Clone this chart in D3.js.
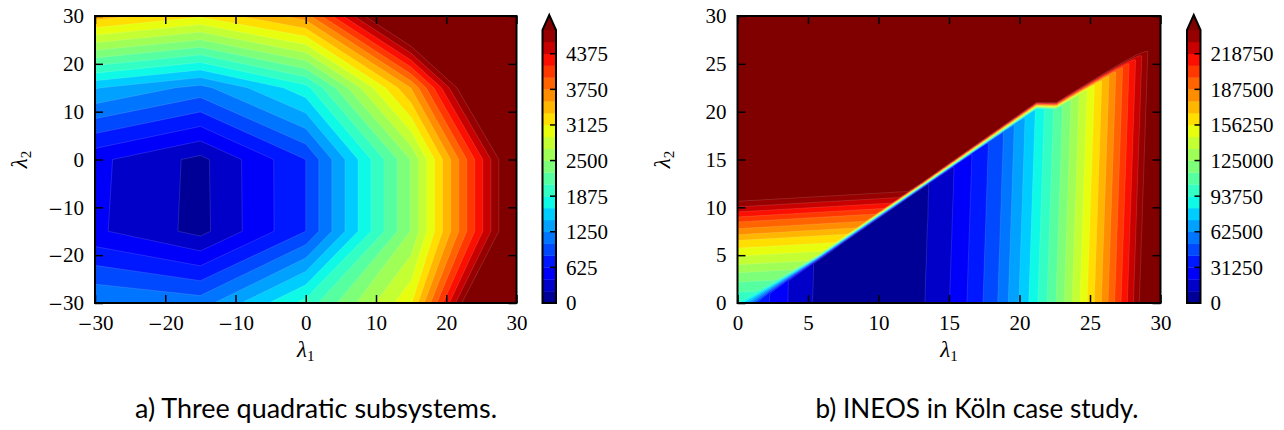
<!DOCTYPE html>
<html><head><meta charset="utf-8">
<script src="https://cdn.jsdelivr.net/npm/d3@7"></script>
<style>
body{margin:0;background:#fff;}
svg{display:block;}
</style></head><body>
<svg id="chart" width="1284" height="430"></svg>
<script>
// ================= DATA =================
// Panel a) Three quadratic subsystems : node values on a coarse grid
const quadLambda1 = [-30, -15, 0, 15, 30];
const quadLambda2 = [-30, -15, 0, 15, 30];
// one row per lambda2 (from -30 up to 30), one column per lambda1
const quadValues = [
  [1250, 1146, 1950, 3100, 6620],
  [ 456,  141,  833, 2513, 5250],
  [ 470,  150,  833, 2513, 5250],
  [1475, 1180, 1800, 3550, 6414],
  [3440, 3150, 3650, 5700, 8500]
];
const quadLevelStep = 625 / 3;
const quadBandCount = 23;
const quadColorbarTicks = [0, 625, 1250, 1875, 2500, 3125, 3750, 4375];
const quadAxisTicks = [-30, -20, -10, 0, 10, 20, 30];

// Panel b) INEOS in Köln case study
// lower region: value against lambda1 (band edges read at lambda2 = 0)
const ineosLowX = [0, 2.26, 3.56, 5.3, 9.3, 13.3, 15.04, 16.27, 17.41, 18.46, 19.2, 19.95, 20.65, 21.3, 21.95,
  22.58, 23.17, 23.73, 24.28, 24.8, 25.31, 25.81, 26.28, 26.75, 27.2, 27.65, 28.08, 28.5, 30];
const ineosLowV = [56000, 31250, 20833, 10417, 0, 10417, 20833, 31250, 41667, 52083, 62500, 72917, 83333, 93750, 104167,
  114583, 125000, 135417, 145833, 156250, 166667, 177083, 187500, 197917, 208333, 218750, 229167, 239583, 290000];
const ineosLowShear = 0.023;       // band edges lean right going up
// upper-left region: value against lambda2 (band edges read at lambda1 = 0)
const ineosLeftY = [0, 1.12, 2.17, 3.15, 3.99, 4.9, 5.74, 6.55, 7.14, 7.77, 8.47, 9.0, 9.52, 10.05, 10.64, 11.3];
const ineosLeftV = [94000, 104167, 114583, 125000, 135417, 145833, 156250, 166667, 177083, 187500, 197917, 208333,
  218750, 229167, 239583, 260000];
const ineosLeftTilt = 0.085;       // band edges rise to the right
// the steep ridge: lower edge and upper edge (lambda1 -> lambda2)
const ineosRidgeLowX = [0, 21.2, 22.6, 29.1, 30];
const ineosRidgeLowY = [-1.38, 20.3, 20.3, 26.3, 27.1];
const ineosRidgeHighX = [0, 5.7, 21.2, 22.6, 29.1, 30];
const ineosRidgeHighY = [0, 5.0, 21.05, 21.05, 27.05, 27.85];
const ineosLevelStep = 31250 / 3;
const ineosBandCount = 23;
const ineosColorbarTicks = [0, 31250, 62500, 93750, 125000, 156250, 187500, 218750];
const ineosAxisTicks = [0, 5, 10, 15, 20, 25, 30];

const captions = ["a) Three quadratic subsystems.", "b) INEOS in Köln case study."];

// ================= COLOURS (matplotlib jet, 256 entries) =================
const jetR = [[0,0],[0.35,0],[0.66,1],[0.89,1],[1,0.5]];
const jetG = [[0,0],[0.125,0],[0.375,1],[0.64,1],[0.91,0],[1,0]];
const jetB = [[0,0.5],[0.11,1],[0.34,1],[0.65,0],[1,0]];
function segVal(p, x) {
  for (let i = 1; i < p.length; i++) {
    if (x <= p[i][0]) { const a = p[i-1], b = p[i]; return a[1] + (b[1]-a[1]) * (x - a[0]) / (b[0] - a[0]); }
  }
  return p[p.length-1][1];
}
function jet(t) {
  const idx = Math.max(0, Math.min(255, Math.floor(t * 256)));
  const x = idx / 255;
  return d3.rgb(Math.round(segVal(jetR,x)*255), Math.round(segVal(jetG,x)*255), Math.round(segVal(jetB,x)*255)).formatHex();
}
const overColor = jet(1);
function bandColor(k, n) { return jet((k + 0.5) / n); }

// ================= GRID FOR PANEL b =================
const ineosGridStep = 0.1;
const ineosN = Math.round(30 / ineosGridStep) + 1;
const lowScale = d3.scaleLinear().domain(ineosLowX).range(ineosLowV);
const leftScale = d3.scaleLinear().domain(ineosLeftY).range(ineosLeftV).clamp(true);
const ridgeLow = d3.scaleLinear().domain(ineosRidgeLowX).range(ineosRidgeLowY).clamp(true);
const ridgeHigh = d3.scaleLinear().domain(ineosRidgeHighX).range(ineosRidgeHighY).clamp(true);
const ineosGrid = new Array(ineosN * ineosN);
for (let j = 0; j < ineosN; j++) {
  const y = j * ineosGridStep;
  for (let i = 0; i < ineosN; i++) {
    const x = i * ineosGridStep;
    const lo = lowScale(x - ineosLowShear * y);
    const up = leftScale(y - ineosLeftTilt * x);
    const le = ridgeLow(x), ue = ridgeHigh(x);
    let v;
    if (y < le) v = lo;
    else if (y >= ue) v = up;
    else v = d3.interpolateNumber(lo, up)((y - le) / (ue - le));
    ineosGrid[j * ineosN + i] = v;
  }
}

// ================= DRAW =================
const svg = d3.select('#chart');
const serif = '"Liberation Serif", "DejaVu Serif", serif';
const tickFont = 21;

function drawPanel(o) {
  const g = svg.append('g');
  const xS = d3.scaleLinear().domain(o.xDomain).range([o.left, o.right]);
  const yS = d3.scaleLinear().domain(o.yDomain).range([o.bottom, o.top]);
  const clipId = o.id + '-clip';
  svg.append('clipPath').attr('id', clipId).append('rect')
    .attr('x', o.left).attr('y', o.top).attr('width', o.right - o.left).attr('height', o.bottom - o.top);

  const thresholds = d3.range(o.bands + 1).map(k => k * o.step);
  const contours = d3.contours().size([o.nx, o.ny]).thresholds(thresholds)(o.values);
  const proj = d3.geoTransform({ point(px, py) { this.stream.point(xS(o.cx(px)), yS(o.cy(py))); } });
  const path = d3.geoPath(proj);
  g.append('g').attr('clip-path', `url(#${clipId})`)
    .selectAll('path').data(contours).join('path')
    .attr('d', path)
    .attr('fill-rule', 'evenodd')
    .attr('fill', (d, i) => i < o.bands ? bandColor(i, o.bands) : overColor)
    .attr('stroke', 'rgba(255,255,255,0.22)')
    .attr('stroke-width', 0.6);

  const tickLen = 8;
  function styleAxis(sel, labels) {
    sel.select('.domain').remove();
    sel.selectAll('.tick line').attr('stroke', '#000').attr('stroke-width', 1.5);
    if (!labels) { sel.selectAll('.tick text').remove(); return; }
    sel.selectAll('.tick text')
      .attr('font-family', serif).attr('font-size', tickFont).attr('fill', '#000')
      .each(function(d) {
        const t = d3.select(this); t.text(null);
        if (d < 0) t.append('tspan').attr('font-family', '"DejaVu Serif", serif').attr('font-size', 18).text('\u2212');
        t.append('tspan').text(Math.abs(d));
      });
  }
  g.append('g').attr('transform', `translate(0,${o.bottom})`)
    .call(d3.axisBottom(xS).tickValues(o.xTicks).tickSize(-tickLen).tickPadding(12)).call(s => styleAxis(s, true));
  g.append('g').attr('transform', `translate(0,${o.top})`)
    .call(d3.axisTop(xS).tickValues(o.xTicks).tickSize(-tickLen)).call(s => styleAxis(s, false));
  g.append('g').attr('transform', `translate(${o.left},0)`)
    .call(d3.axisLeft(yS).tickValues(o.yTicks).tickSize(-tickLen).tickPadding(11)).call(s => styleAxis(s, true));
  g.append('g').attr('transform', `translate(${o.right},0)`)
    .call(d3.axisRight(yS).tickValues(o.yTicks).tickSize(-tickLen)).call(s => styleAxis(s, false));

  g.append('rect').attr('x', o.left).attr('y', o.top).attr('width', o.right - o.left).attr('height', o.bottom - o.top)
    .attr('fill', 'none').attr('stroke', '#000').attr('stroke-width', 2);

  // axis labels
  const xl = g.append('text').attr('x', (o.left + o.right) / 2).attr('y', o.bottom + 54)
    .attr('text-anchor', 'middle').attr('font-family', serif).attr('font-size', 23).attr('fill', '#000');
  xl.append('tspan').attr('font-style', 'italic').text('λ');
  xl.append('tspan').attr('font-size', 15).attr('dy', 4).text('1');
  const yl = g.append('text').attr('transform', `translate(${o.left - 68},${(o.top + o.bottom) / 2}) rotate(-90)`)
    .attr('text-anchor', 'middle').attr('font-family', serif).attr('font-size', 23).attr('fill', '#000');
  yl.append('tspan').attr('font-style', 'italic').text('λ');
  yl.append('tspan').attr('font-size', 15).attr('dy', 4).text('2');

  // colorbar
  const cb = o.cb;
  const cS = d3.scaleLinear().domain([0, o.bands * o.step]).range([o.bottom, cb.top]);
  const bandIdx = d3.range(o.bands);
  g.append('g').selectAll('rect').data(bandIdx).join('rect')
    .attr('x', cb.x0).attr('width', cb.x1 - cb.x0)
    .attr('y', k => cS((k + 1) * o.step)).attr('height', k => cS(k * o.step) - cS((k + 1) * o.step) + 0.3)
    .attr('fill', k => bandColor(k, o.bands));
  const mid = (cb.x0 + cb.x1) / 2;
  g.append('path').attr('d', `M${cb.x0},${cb.top + 0.3}L${cb.x1},${cb.top + 0.3}L${mid},${cb.tip}Z`).attr('fill', overColor);
  g.append('path').attr('d', `M${cb.x0},${o.bottom}L${cb.x0},${cb.top}L${mid},${cb.tip}L${cb.x1},${cb.top}L${cb.x1},${o.bottom}Z`)
    .attr('fill', 'none').attr('stroke', '#000').attr('stroke-width', 2).attr('stroke-linejoin', 'miter');
  const ct = g.append('g').selectAll('g').data(o.cbTicks).join('g').attr('transform', v => `translate(0,${cS(v)})`);
  ct.append('line').attr('x1', cb.x1 - 6).attr('x2', cb.x1).attr('stroke', '#000').attr('stroke-width', 1.5);
  ct.append('text').attr('x', cb.x1 + 10).attr('dy', '0.35em').attr('font-family', serif).attr('font-size', tickFont)
    .attr('fill', '#000').text(v => v);

  // caption
  svg.append('text').attr('x', o.capX).attr('y', 418).attr('text-anchor', 'middle')
    .attr('font-family', 'Lato, "Open Sans", sans-serif').attr('font-size', 27).attr('fill', '#000')
    .attr('textLength', o.capW).attr('lengthAdjust', 'spacingAndGlyphs').text(o.caption);
}

const quadFlat = quadValues.flat();
const quadIdxX = d3.scaleLinear().domain(quadLambda1.map((d, i) => i + 0.5)).range(quadLambda1);
const quadIdxY = d3.scaleLinear().domain(quadLambda2.map((d, i) => i + 0.5)).range(quadLambda2);

drawPanel({
  id: 'quad', left: 95, right: 516.5, top: 16, bottom: 303,
  xDomain: [-30, 30], yDomain: [-30, 30],
  nx: quadLambda1.length, ny: quadLambda2.length, values: quadFlat,
  cx: c => quadIdxX(c), cy: c => quadIdxY(c),
  bands: quadBandCount, step: quadLevelStep,
  xTicks: quadAxisTicks, yTicks: quadAxisTicks,
  cb: { x0: 542.5, x1: 556, top: 30, tip: 15 }, cbTicks: quadColorbarTicks,
  caption: captions[0], capX: 316, capW: 362
});

drawPanel({
  id: 'ineos', left: 737.5, right: 1160.5, top: 16, bottom: 303,
  xDomain: [0, 30], yDomain: [0, 30],
  nx: ineosN, ny: ineosN, values: ineosGrid,
  cx: c => (c - 0.5) * ineosGridStep, cy: c => (c - 0.5) * ineosGridStep,
  bands: ineosBandCount, step: ineosLevelStep,
  xTicks: ineosAxisTicks, yTicks: ineosAxisTicks,
  cb: { x0: 1187, x1: 1200.5, top: 30, tip: 15 }, cbTicks: ineosColorbarTicks,
  caption: captions[1], capX: 977, capW: 323
});
</script>
</body></html>
